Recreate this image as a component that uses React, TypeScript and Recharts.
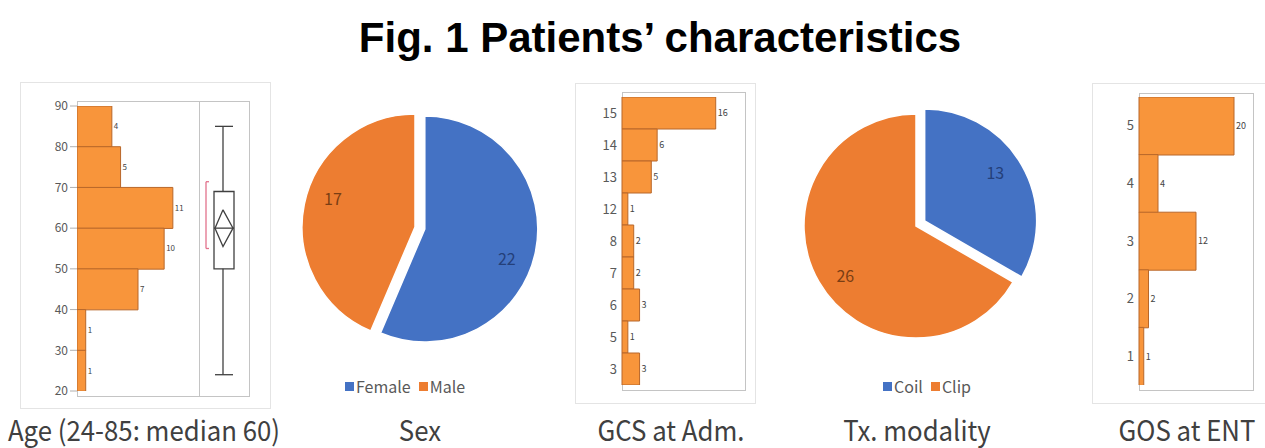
import React from 'react';
import {
  BarChart,
  Bar,
  XAxis,
  YAxis,
  LabelList,
  ComposedChart,
  Scatter,
  ReferenceLine,
  ReferenceArea,
  PieChart,
  Pie,
  Cell,
} from 'recharts';

// --- data ---
const AGE_BINS = ['80-90', '70-80', '60-70', '50-60', '40-50', '30-40', '20-30'];
const AGE_COUNTS = [4, 5, 11, 10, 7, 1, 1];
const AGE_TICKS = [20, 30, 40, 50, 60, 70, 80, 90];
const AGE_BOX = { min: 24, q1: 50, median: 60, q3: 69, max: 85 };
const AGE_MEAN = 60;
const AGE_MEAN_CI = [55.5, 64.5];
const AGE_SHORTEST_HALF = [55, 71.4];

const SEX_LABELS = ['Female', 'Male'];
const SEX_COUNTS = [22, 17];

const GCS_SCORES = ['15', '14', '13', '12', '8', '7', '6', '5', '3'];
const GCS_COUNTS = [16, 6, 5, 1, 2, 2, 3, 1, 3];

const TX_LABELS = ['Coil', 'Clip'];
const TX_COUNTS = [13, 26];

const GOS_SCORES = ['5', '4', '3', '2', '1'];
const GOS_COUNTS = [20, 4, 12, 2, 1];

const CAPTIONS = ['Age (24-85: median 60)', 'Sex', 'GCS at Adm.', 'Tx. modality', 'GOS at ENT'];

const BAR_FILL = '#F8953B';
const BAR_STROKE = '#B8672A';
const PIE_COLORS = ['#4472C4', '#ED7D31'];
const PIE_LABEL_COLORS = ['#24407A', '#7A3E14'];
const FONT = '"Noto Sans CJK JP", "Noto Sans", sans-serif';
const TICK = { fontSize: 13, fill: '#595959', fontFamily: FONT };

const abs = (left: number, top: number, width: number, height: number): React.CSSProperties => ({
  position: 'absolute',
  left,
  top,
  width,
  height,
});

function Box({ left, top, right, bottom, color }: { left: number; top: number; right: number; bottom: number; color: string }) {
  return (
    <div
      style={{
        ...abs(left, top, right - left, bottom - top),
        boxSizing: 'border-box',
        border: `1px solid ${color}`,
      }}
    />
  );
}

function AgePanel() {
  const data = AGE_BINS.map((bin, i) => ({ bin, count: AGE_COUNTS[i] }));
  const line = { stroke: '#404040', strokeWidth: 1.3, ifOverflow: 'visible' as const };
  const red = { stroke: '#E2728C', strokeWidth: 1.3, ifOverflow: 'visible' as const };
  // box plot x positions, in pixels from the left edge of the frame
  const cx = 146;
  const bl = 137;
  const br = 157;
  const diamond = [
    { x: cx, y: AGE_MEAN_CI[1] },
    { x: br - 1, y: AGE_MEAN },
    { x: cx, y: AGE_MEAN_CI[0] },
    { x: bl + 1, y: AGE_MEAN },
    { x: cx, y: AGE_MEAN_CI[1] },
  ];
  return (
    <>
      <Box left={20} top={82} right={271} bottom={409} color="#e4e4e4" />
      <Box left={77} top={101} right={250} bottom={397} color="#c4c4c4" />
      <div style={{ ...abs(199, 101, 1, 296), background: '#c4c4c4' }} />
      <div style={abs(77, 106, 122, 285)}>
        <BarChart
          width={122}
          height={285}
          data={data}
          layout="vertical"
          barCategoryGap={0}
          margin={{ top: 0, right: 0, bottom: 0, left: 0 }}
        >
          <XAxis type="number" domain={[0, 14]} hide />
          <YAxis type="category" dataKey="bin" hide />
          <Bar dataKey="count" fill={BAR_FILL} stroke={BAR_STROKE} strokeWidth={1} isAnimationActive={false}>
            <LabelList dataKey="count" position="right" offset={2} style={{ fontSize: 8, fill: '#444', fontFamily: FONT }} />
          </Bar>
        </BarChart>
      </div>
      <div style={abs(47, 94, 202, 309)}>
        <ComposedChart width={202} height={309} margin={{ top: 12, right: 0, bottom: 12, left: 0 }}>
          <XAxis type="number" dataKey="x" domain={[0, 172]} ticks={[0, 172]} allowDataOverflow hide />
          <YAxis
            type="number"
            dataKey="y"
            domain={[20, 90]}
            ticks={AGE_TICKS}
            allowDataOverflow
            interval={0}
            width={30}
            axisLine={false}
            tickSize={7}
            tickMargin={2}
            tickLine={{ stroke: '#b0b0b0' }}
            tick={{ ...TICK, fontSize: 12 }}
          />
          <ReferenceArea
            x1={bl}
            x2={br}
            y1={AGE_BOX.q1}
            y2={AGE_BOX.q3}
            ifOverflow="visible"
            fill="#fff"
            fillOpacity={1}
            stroke="#404040"
            strokeWidth={1.3}
            strokeOpacity={1}
          />
          <ReferenceLine segment={[{ x: cx, y: AGE_BOX.q3 }, { x: cx, y: AGE_BOX.max }]} {...line} />
          <ReferenceLine segment={[{ x: cx, y: AGE_BOX.min }, { x: cx, y: AGE_BOX.q1 }]} {...line} />
          <ReferenceLine segment={[{ x: bl + 1, y: AGE_BOX.max }, { x: br - 1, y: AGE_BOX.max }]} {...line} />
          <ReferenceLine segment={[{ x: bl + 1, y: AGE_BOX.min }, { x: br - 1, y: AGE_BOX.min }]} {...line} />
          <ReferenceLine segment={[{ x: bl, y: AGE_BOX.median }, { x: br, y: AGE_BOX.median }]} {...line} />
          <Scatter
            data={diamond}
            line={{ stroke: '#404040', strokeWidth: 1.3 }}
            shape={() => <g />}
            isAnimationActive={false}
          />
          <ReferenceLine segment={[{ x: 129, y: AGE_SHORTEST_HALF[0] }, { x: 129, y: AGE_SHORTEST_HALF[1] }]} {...red} />
          <ReferenceLine segment={[{ x: 129, y: AGE_SHORTEST_HALF[0] }, { x: 132, y: AGE_SHORTEST_HALF[0] }]} {...red} />
          <ReferenceLine segment={[{ x: 129, y: AGE_SHORTEST_HALF[1] }, { x: 132, y: AGE_SHORTEST_HALF[1] }]} {...red} />
        </ComposedChart>
      </div>
    </>
  );
}

function HistPanel({
  left,
  top,
  plotWidth,
  height,
  categories,
  counts,
  domainMax,
}: {
  left: number;
  top: number;
  plotWidth: number;
  height: number;
  categories: string[];
  counts: number[];
  domainMax: number;
}) {
  const data = categories.map((score, i) => ({ score, count: counts[i] }));
  const axisW = 40;
  return (
    <div style={abs(left - axisW, top, axisW + plotWidth, height)}>
      <BarChart
        width={axisW + plotWidth}
        height={height}
        data={data}
        layout="vertical"
        barCategoryGap={0}
        margin={{ top: 0, right: 0, bottom: 0, left: 0 }}
      >
        <XAxis type="number" domain={[0, domainMax]} hide />
        <YAxis
          type="category"
          dataKey="score"
          width={axisW}
          interval={0}
          axisLine={false}
          tickLine={false}
          tickSize={0}
          tickMargin={5}
          tick={TICK}
        />
        <Bar dataKey="count" fill={BAR_FILL} stroke={BAR_STROKE} strokeWidth={1} isAnimationActive={false}>
          <LabelList dataKey="count" position="right" offset={2} style={{ fontSize: 9, fill: '#444', fontFamily: FONT }} />
        </Bar>
      </BarChart>
    </div>
  );
}

function ExplodedPie({
  left,
  top,
  labels,
  counts,
  explodeIndex,
  cx,
  cy,
  r,
  labelShift,
}: {
  left: number;
  top: number;
  labels: string[];
  counts: number[];
  explodeIndex: number;
  cx: number;
  cy: number;
  r: number;
  labelShift: number;
}) {
  const data = labels.map((name, i) => ({ name, value: counts[i] }));
  const total = counts.reduce((a, b) => a + b, 0);
  const before = counts.slice(0, explodeIndex).reduce((a, b) => a + b, 0);
  const mid = ((90 - (360 * (before + counts[explodeIndex] / 2)) / total) * Math.PI) / 180;
  const dx = 10 * Math.cos(mid);
  const dy = -10 * Math.sin(mid);

  const makeLabel = (exploded: boolean) => (p: any) => {
    if ((p.index === explodeIndex) !== exploded) return null;
    const a = (-(p.midAngle + labelShift) * Math.PI) / 180;
    const x = p.cx + p.outerRadius * 0.77 * Math.cos(a);
    const y = p.cy + p.outerRadius * 0.77 * Math.sin(a);
    return (
      <text
        x={x}
        y={y}
        textAnchor="middle"
        dominantBaseline="central"
        fontSize={16}
        fontFamily={FONT}
        fill={PIE_LABEL_COLORS[p.index]}
      >
        {p.value}
      </text>
    );
  };

  return (
    <div style={abs(left, top, 280, 290)}>
      <PieChart width={280} height={290} margin={{ top: 0, right: 0, bottom: 0, left: 0 }}>
        <Pie
          data={data}
          dataKey="value"
          nameKey="name"
          cx={cx}
          cy={cy}
          outerRadius={r}
          startAngle={90}
          endAngle={-270}
          isAnimationActive={false}
          labelLine={false}
          label={makeLabel(false)}
        >
          {data.map((d, i) => (
            <Cell
              key={d.name}
              fill={i === explodeIndex ? 'transparent' : PIE_COLORS[i]}
              stroke={i === explodeIndex ? 'none' : '#fff'}
              strokeWidth={1.5}
            />
          ))}
        </Pie>
        <Pie
          data={data}
          dataKey="value"
          nameKey="name"
          cx={cx + dx}
          cy={cy + dy}
          outerRadius={r}
          startAngle={90}
          endAngle={-270}
          isAnimationActive={false}
          labelLine={false}
          label={makeLabel(true)}
        >
          {data.map((d, i) => (
            <Cell
              key={d.name}
              fill={i === explodeIndex ? PIE_COLORS[i] : 'transparent'}
              stroke={i === explodeIndex ? '#fff' : 'none'}
              strokeWidth={1.5}
            />
          ))}
        </Pie>
      </PieChart>
    </div>
  );
}

function PieLegend({ centerX, top, labels }: { centerX: number; top: number; labels: string[] }) {
  return (
    <div
      style={{
        position: 'absolute',
        left: centerX - 150,
        top,
        width: 300,
        display: 'flex',
        justifyContent: 'center',
        gap: 8,
        fontFamily: FONT,
        fontSize: 16,
        color: '#595959',
        lineHeight: '18px',
      }}
    >
      {labels.map((l, i) => (
        <span key={l} style={{ display: 'flex', alignItems: 'center' }}>
          <span style={{ width: 9, height: 9, background: PIE_COLORS[i], marginRight: 2, display: 'inline-block' }} />
          {l}
        </span>
      ))}
    </div>
  );
}

const CAPTION_X = [144, 420, 671, 917, 1187];

export default function App() {
  return (
    <div style={{ ...abs(0, 0, 1265, 448), background: '#fff', overflow: 'hidden' }}>
      <div
        style={{
          position: 'absolute',
          left: 0,
          top: 17,
          width: 1320,
          textAlign: 'center',
          fontFamily: '"Liberation Sans", Arial, sans-serif',
          fontWeight: 'bold',
          fontSize: 42,
          lineHeight: '42px',
          color: '#000',
          whiteSpace: 'nowrap',
        }}
      >
        Fig. 1 Patients’ characteristics
      </div>

      <AgePanel />

      <ExplodedPie left={280} top={90} labels={SEX_LABELS} counts={SEX_COUNTS} explodeIndex={0} cx={135} cy={137} r={113} labelShift={-8} />
      <PieLegend centerX={405} top={377} labels={SEX_LABELS} />

      <Box left={575} top={83} right={756} bottom={404} color="#e4e4e4" />
      <Box left={622} top={92} right={746} bottom={391} color="#c4c4c4" />
      <HistPanel left={622} top={97} plotWidth={123} height={288} categories={GCS_SCORES} counts={GCS_COUNTS} domainMax={21} />

      <ExplodedPie left={790} top={90} labels={TX_LABELS} counts={TX_COUNTS} explodeIndex={0} cx={126} cy={136} r={112} labelShift={5} />
      <PieLegend centerX={927} top={377} labels={TX_LABELS} />

      <Box left={1092} top={83} right={1270} bottom={404} color="#e4e4e4" />
      <Box left={1139} top={93} right={1254} bottom={391} color="#c4c4c4" />
      <HistPanel left={1139} top={97} plotWidth={114} height={288} categories={GOS_SCORES} counts={GOS_COUNTS} domainMax={24} />

      {CAPTIONS.map((c, i) => (
        <div
          key={c}
          style={{
            position: 'absolute',
            left: CAPTION_X[i] - 200,
            top: 410,
            width: 400,
            textAlign: 'center',
            fontFamily: FONT,
            fontSize: 28,
            lineHeight: '38px',
            color: '#404040',
            whiteSpace: 'nowrap',
            transform: 'scaleX(0.92)',
          }}
        >
          {c}
        </div>
      ))}
    </div>
  );
}
